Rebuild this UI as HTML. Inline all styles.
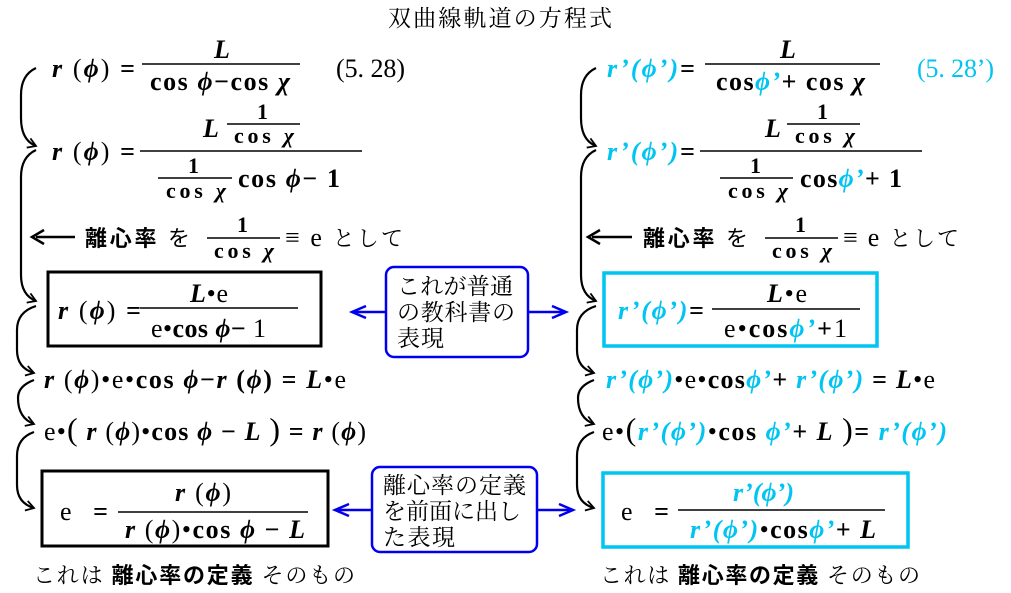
<!DOCTYPE html>
<html><head><meta charset="utf-8"><style>
body{margin:0;background:#fff;width:1011px;height:593px;overflow:hidden}
svg{display:block}
text{font-family:"Liberation Serif","Noto Serif CJK SC",serif;font-size:26px;fill:#000}
.b{font-weight:bold}
.i{font-style:italic;font-weight:bold}
.c{fill:#00c4f2}
.j{font-family:"Liberation Serif","Noto Serif CJK JP","Noto Sans CJK JP",serif;font-size:22px}
.jb{font-family:"Liberation Sans","Noto Sans CJK JP",sans-serif;font-size:22px;font-weight:bold}
.s{font-size:22px}
</style></head><body>
<svg width="1011" height="593" viewBox="0 0 1011 593" xmlns="http://www.w3.org/2000/svg">
<defs>
<marker id="ah" markerWidth="12" markerHeight="12" refX="9" refY="6" orient="auto" markerUnits="userSpaceOnUse"><path d="M1,1 L9,6 L1,11" fill="none" stroke="#000" stroke-width="1.8"/></marker>
<marker id="bh" markerWidth="20" markerHeight="16" refX="16" refY="8" orient="auto" markerUnits="userSpaceOnUse"><path d="M2,2 L16,8 L2,14" fill="none" stroke="#0000ee" stroke-width="2.5"/></marker>
</defs>
<text x="388" y="26" class="j" textLength="224" style="font-size:23px">双曲線軌道の方程式</text>

<g fill="none" stroke="#000" stroke-width="2.2" marker-end="url(#ah)">
<path d="M36,68 Q21,75 21,95 L21,118 Q21,140 36,146"/>
<path d="M36,150 Q21,157 21,177 L21,275 Q21,295 36,301"/>
<path d="M36,306 Q17,312 17,330 L17,350 Q17,368 34,373"/>
<path d="M34,380 Q18,386 18,398 Q18,418 34,424"/>
<path d="M34,432 Q17,438 17,456 L17,485 Q17,503 34,508"/>
<path d="M596,68 Q581,75 581,95 L581,118 Q581,140 596,146"/>
<path d="M596,150 Q581,157 581,177 L581,275 Q581,295 596,301"/>
<path d="M596,306 Q577,312 577,330 L577,350 Q577,368 594,373"/>
<path d="M594,380 Q578,386 578,398 Q578,418 594,424"/>
<path d="M594,432 Q577,438 577,456 L577,485 Q577,503 594,508"/>
</g>

<text x="52" y="77" textLength="83"><tspan class="i">r</tspan> (<tspan class="i">ϕ</tspan>) <tspan class="b">=</tspan></text>
<text x="214" y="58" class="i">L</text>
<line x1="142" y1="64" x2="300" y2="64" stroke="#000" stroke-width="1.6"/>
<text x="150" y="90" class="b" textLength="140">cos <tspan class="i">ϕ</tspan>−cos <tspan class="i">χ</tspan></text>
<text x="336" y="77" textLength="69">(5. 28)</text>

<text x="52" y="160" textLength="83"><tspan class="i">r</tspan> (<tspan class="i">ϕ</tspan>) <tspan class="b">=</tspan></text>
<text x="203" y="137" class="i">L</text>
<text x="257" y="119" class="b s">1</text>
<line x1="227" y1="124" x2="300" y2="124" stroke="#000" stroke-width="1.5"/>
<text x="234" y="143" class="b s" textLength="60">cos <tspan class="i">χ</tspan></text>
<line x1="140" y1="151" x2="362" y2="151" stroke="#000" stroke-width="1.6"/>
<text x="188" y="173" class="b s">1</text>
<line x1="158" y1="178" x2="232" y2="178" stroke="#000" stroke-width="1.5"/>
<text x="166" y="198" class="b s" textLength="60">cos <tspan class="i">χ</tspan></text>
<text x="238" y="187" class="b" textLength="102">cos <tspan class="i">ϕ</tspan>− 1</text>

<line x1="36" y1="237" x2="75" y2="237" stroke="#000" stroke-width="2.5"/>
<path d="M44,230 L32,237 L44,244" fill="none" stroke="#000" stroke-width="2.5"/>
<text x="85" y="246" class="jb" textLength="105">離心率 <tspan style="font-weight:normal">を</tspan></text>
<text x="237" y="232" class="b s">1</text>
<line x1="207" y1="238" x2="280" y2="238" stroke="#000" stroke-width="1.5"/>
<text x="214" y="258" class="b s" textLength="60">cos <tspan class="i">χ</tspan></text>
<text x="285" y="246" textLength="118">≡ e <tspan class="j">として</tspan></text>

<rect x="48" y="272" width="273" height="74" fill="none" stroke="#000" stroke-width="3"/>
<text x="58" y="319" textLength="83"><tspan class="i">r</tspan> (<tspan class="i">ϕ</tspan>) <tspan class="b">=</tspan></text>
<text x="190" y="302" textLength="38"><tspan class="i">L</tspan>•e</text>
<line x1="140" y1="308" x2="298" y2="308" stroke="#000" stroke-width="1.6"/>
<text x="151" y="337" textLength="115">e•<tspan class="b">cos <tspan class="i">ϕ</tspan>−</tspan> 1</text>

<text x="44" y="388" textLength="302"><tspan class="i">r</tspan> (<tspan class="i">ϕ</tspan>)•e•<tspan class="b">cos <tspan class="i">ϕ</tspan>−<tspan class="i">r</tspan> (<tspan class="i">ϕ</tspan>) = <tspan class="i">L</tspan></tspan>•e</text>
<text x="44" y="440" textLength="322">e•<tspan style="font-size:32px">(</tspan> <tspan class="i">r</tspan> (<tspan class="i">ϕ</tspan>)•<tspan class="b">cos <tspan class="i">ϕ</tspan> − <tspan class="i">L</tspan></tspan> <tspan style="font-size:32px">)</tspan> <tspan class="b">=</tspan> <tspan class="i">r</tspan> (<tspan class="i">ϕ</tspan>)</text>

<rect x="42" y="471" width="286" height="75" fill="none" stroke="#000" stroke-width="3"/>
<text x="60" y="520" textLength="48">e <tspan class="b">=</tspan></text>
<text x="175" y="501" textLength="56"><tspan class="i">r</tspan> (<tspan class="i">ϕ</tspan>)</text>
<line x1="118" y1="512" x2="308" y2="512" stroke="#000" stroke-width="1.6"/>
<text x="125" y="538" textLength="180"><tspan class="i">r</tspan> (<tspan class="i">ϕ</tspan>)•<tspan class="b">cos <tspan class="i">ϕ</tspan> − <tspan class="i">L</tspan></tspan></text>
<text x="33" y="583" class="j" textLength="322">これは <tspan class="jb">離心率の定義</tspan> そのもの</text>

<rect x="386" y="267" width="142" height="90" rx="8" fill="#fff" stroke="#0000ee" stroke-width="2.5"/>
<text x="397" y="294" class="j" textLength="116" style="font-size:23px">これが普通</text>
<text x="397" y="320" class="j" textLength="118" style="font-size:23px">の教科書の</text>
<text x="397" y="346" class="j" textLength="47" style="font-size:23px">表現</text>
<line x1="386" y1="312" x2="352" y2="312" stroke="#0000ee" stroke-width="2.5" marker-end="url(#bh)"/>
<line x1="528" y1="312" x2="566" y2="312" stroke="#0000ee" stroke-width="2.5" marker-end="url(#bh)"/>
<rect x="372" y="467" width="165" height="85" rx="8" fill="#fff" stroke="#0000ee" stroke-width="2.5"/>
<text x="383" y="493" class="j" textLength="143" style="font-size:23px">離心率の定義</text>
<text x="383" y="519" class="j" textLength="138" style="font-size:23px">を前面に出し</text>
<text x="383" y="545" class="j" textLength="72" style="font-size:23px">た表現</text>
<line x1="372" y1="510" x2="335" y2="510" stroke="#0000ee" stroke-width="2.5" marker-end="url(#bh)"/>
<line x1="537" y1="510" x2="573" y2="510" stroke="#0000ee" stroke-width="2.5" marker-end="url(#bh)"/>

<text x="607" y="77" textLength="88"><tspan class="i c">r’(ϕ’)</tspan><tspan class="b">=</tspan></text>
<text x="780" y="58" class="i">L</text>
<line x1="705" y1="64" x2="880" y2="64" stroke="#000" stroke-width="1.6"/>
<text x="716" y="90" class="b" textLength="149">cos<tspan class="i c">ϕ’</tspan>+ cos <tspan class="i">χ</tspan></text>
<text x="917" y="77" class="c" textLength="77">(5. 28’)</text>

<text x="607" y="160" textLength="88"><tspan class="i c">r’(ϕ’)</tspan><tspan class="b">=</tspan></text>
<text x="765" y="137" class="i">L</text>
<text x="817" y="119" class="b s">1</text>
<line x1="787" y1="124" x2="860" y2="124" stroke="#000" stroke-width="1.5"/>
<text x="795" y="143" class="b s" textLength="60">cos <tspan class="i">χ</tspan></text>
<line x1="700" y1="151" x2="922" y2="151" stroke="#000" stroke-width="1.6"/>
<text x="750" y="173" class="b s">1</text>
<line x1="720" y1="178" x2="793" y2="178" stroke="#000" stroke-width="1.5"/>
<text x="728" y="198" class="b s" textLength="60">cos <tspan class="i">χ</tspan></text>
<text x="800" y="187" class="b" textLength="102">cos<tspan class="i c">ϕ’</tspan>+ 1</text>

<line x1="592" y1="237" x2="632" y2="237" stroke="#000" stroke-width="2.5"/>
<path d="M600,230 L588,237 L600,244" fill="none" stroke="#000" stroke-width="2.5"/>
<text x="643" y="246" class="jb" textLength="105">離心率 <tspan style="font-weight:normal">を</tspan></text>
<text x="795" y="232" class="b s">1</text>
<line x1="765" y1="238" x2="838" y2="238" stroke="#000" stroke-width="1.5"/>
<text x="772" y="258" class="b s" textLength="60">cos <tspan class="i">χ</tspan></text>
<text x="843" y="246" textLength="116">≡ e <tspan class="j">として</tspan></text>

<rect x="604" y="273" width="273" height="73" fill="none" stroke="#00c4f2" stroke-width="3.5"/>
<text x="618" y="319" textLength="86"><tspan class="i c">r’(ϕ’)</tspan><tspan class="b">=</tspan></text>
<text x="767" y="302" textLength="40"><tspan class="i">L</tspan>•e</text>
<line x1="712" y1="309" x2="860" y2="309" stroke="#000" stroke-width="1.6"/>
<text x="724" y="337" textLength="123">e•<tspan class="b">cos<tspan class="i c">ϕ’</tspan>+</tspan>1</text>

<text x="606" y="388" textLength="329"><tspan class="i c">r’(ϕ’)</tspan>•e•<tspan class="b">cos<tspan class="i c">ϕ’</tspan>+ <tspan class="i c">r’(ϕ’)</tspan> = <tspan class="i">L</tspan></tspan>•e</text>
<text x="602" y="440" textLength="345">e•<tspan style="font-size:32px">(</tspan><tspan class="i c">r’(ϕ’)</tspan>•<tspan class="b">cos <tspan class="i c">ϕ’</tspan>+ <tspan class="i">L</tspan></tspan> <tspan style="font-size:32px">)</tspan><tspan class="b">=</tspan> <tspan class="i c">r’(ϕ’)</tspan></text>

<rect x="603" y="473" width="305" height="74" fill="none" stroke="#00c4f2" stroke-width="3.5"/>
<text x="621" y="520" textLength="48">e <tspan class="b">=</tspan></text>
<text x="733" y="501" class="i c" textLength="61">r’(ϕ’)</text>
<line x1="678" y1="510" x2="885" y2="510" stroke="#000" stroke-width="1.6"/>
<text x="690" y="538" textLength="186"><tspan class="i c">r’(ϕ’)</tspan>•<tspan class="b">cos<tspan class="i c">ϕ’</tspan>+ <tspan class="i">L</tspan></tspan></text>
<text x="600" y="583" class="j" textLength="320">これは <tspan class="jb">離心率の定義</tspan> そのもの</text>
</svg>
</body></html>
